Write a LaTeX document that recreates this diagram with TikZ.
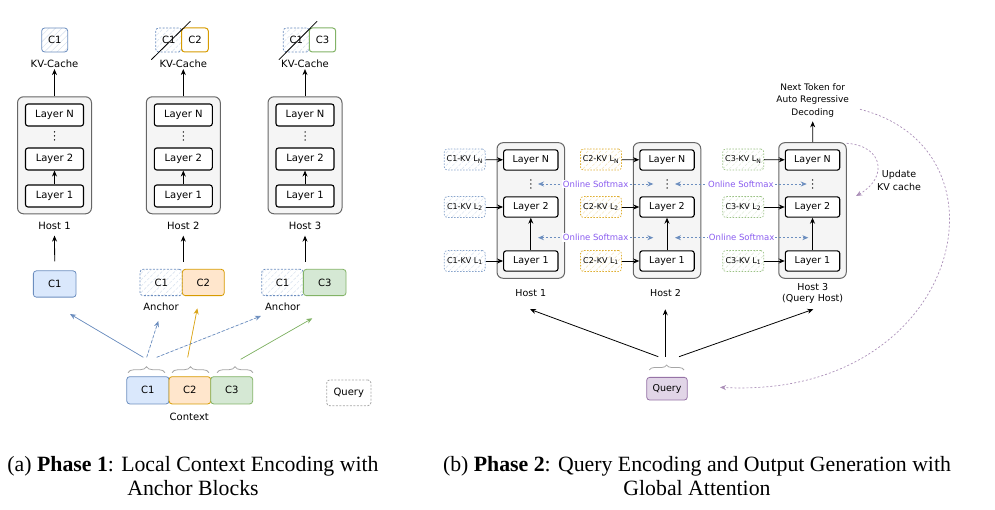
\documentclass[tikz,border=0pt]{standalone}
\usepackage{fontspec}
\setmainfont{Liberation Serif}
\newfontfamily\dv{DejaVu Sans}
\usetikzlibrary{arrows.meta,patterns.meta,decorations.pathreplacing,calc}

\definecolor{bluefl}{HTML}{DAE8FC}
\definecolor{bluedr}{HTML}{6C8EBF}
\definecolor{orangefl}{HTML}{FFE6CC}
\definecolor{orangedr}{HTML}{D79B00}
\definecolor{greenfl}{HTML}{D5E8D4}
\definecolor{greendr}{HTML}{82B366}
\definecolor{purplefl}{HTML}{E1D5E7}
\definecolor{purpledr}{HTML}{9673A6}
\definecolor{hostfl}{HTML}{F5F5F5}
\definecolor{hostdr}{HTML}{666666}
\definecolor{softtxt}{HTML}{8A5CF0}
\definecolor{bracec}{HTML}{A6A6A6}

\tikzset{
  fs/.style={font=\dv\fontsize{#1}{#1}\selectfont},
  arr/.style={-{Stealth[length=6pt,width=5pt]}, line width=0.8pt},
  hostbox/.style={draw=hostdr, fill=hostfl, rounded corners=6pt, line width=1pt, inner sep=0pt},
  layerA/.style={draw=black, fill=white, rounded corners=2.5pt, line width=1.1pt,
    minimum width=58pt, minimum height=22pt, inner sep=0pt, fs=10},
  layerB/.style={layerA, minimum width=54.4pt, minimum height=20.3pt, fs=9.5},
  chunk/.style={rounded corners=3pt, line width=0.8pt, minimum height=26.3pt, inner sep=0pt, fs=10},
  solidchunk/.style={chunk, draw=#1dr, fill=#1fl},
  hatched/.style={pattern={Lines[angle=45,distance=4.5pt,line width=0.6pt]}, pattern color=#1dr!25},
  anchorchunk/.style={chunk, draw=#1dr, dashed, dash pattern=on 2pt off 1.5pt, hatched=#1},
  cache/.style={chunk, minimum height=24pt},
  kvbox/.style={draw=#1dr!80, dash pattern=on 1.5pt off 1.5pt, hatched=#1, rounded corners=3pt,
    line width=0.7pt, minimum width=41pt, minimum height=21pt, inner sep=0pt, fs=8},
  vdot/.style={inner sep=0pt, minimum width=2pt, minimum height=10pt},
  lbl/.style={inner sep=1pt, fs=10},
  brc/.style={draw=bracec, line width=0.8pt, decorate, decoration={brace, amplitude=6pt}},
  soft/.style={{Stealth[length=6pt,width=5pt]}-{Stealth[length=6pt,width=5pt]}, draw=bluedr,
    line width=0.7pt, dash pattern=on 2pt off 2pt},
  softlbl/.style={fill=white, inner sep=1pt, text=softtxt, fs=8.5},
  pcurve/.style={-{Stealth[length=6pt,width=5pt]}, draw=purpledr!80, line width=0.7pt,
    dash pattern=on 2pt off 2pt},
  capt/.style={align=center, font=\fontsize{21.8}{24}\selectfont},
}
% three stacked dots inside a dots node
\newcommand\stackdots[1]{%
  \foreach \dd in {-4,0,4}{\fill ($(#1)+(0,\dd)$) circle (0.75pt);}}

\begin{document}
\begin{tikzpicture}[x=1pt,y=-1pt]
\useasboundingbox (0,0) rectangle (995,510);

% ---------------- Phase 1: local context encoding ----------------
\foreach \i/\x in {1/54.5,2/183.3,3/305}{
  \node[hostbox, minimum width=74pt, minimum height=117pt] (ha\i) at (\x,155.3) {};
  \node[layerA] (haN\i) at (\x,115) {Layer N};
  \node[layerA] (haB\i) at (\x,159) {Layer 2};
  \node[layerA] (haA\i) at (\x,196) {Layer 1};
  \node[vdot] (had\i) at (\x,136) {};
  \stackdots{had\i}
  \draw[arr] (haA\i) -- (haB\i);
  \node[lbl] (hal\i) at (\x,225.7) {Host \i};
  \node[lbl] (kvc\i) at (\x,64) {KV-Cache};
  \draw[arr] (ha\i) -- (kvc\i);
}

% KV caches kept after encoding
\node[cache, draw=bluedr, hatched=blue, minimum width=26pt] (tc1) at (54.7,40) {C1};
\node[cache, draw=bluedr, dashed, dash pattern=on 2pt off 1.5pt, hatched=blue, minimum width=26pt] (tc2a) at (168.7,40) {C1};
\node[cache, draw=orangedr, fill=white, line width=1pt, minimum width=26.6pt] (tc2b) at (195,40) {C2};
\node[cache, draw=bluedr, dashed, dash pattern=on 2pt off 1.5pt, hatched=blue, minimum width=26pt] (tc3a) at (296.3,40) {C1};
\node[cache, draw=greendr, fill=white, line width=1pt, minimum width=26.4pt] (tc3b) at (322.5,40) {C3};
\draw[line width=0.8pt] ($(tc2a.south west)+(-4,7.3)$) -- ($(tc2a.north east)+(8.3,-6.3)$);
\draw[line width=0.8pt] ($(tc3a.south west)+(-4,7.3)$) -- ($(tc3a.north east)+(7.4,-6.3)$);

% inputs of each host
\node[solidchunk=blue, minimum width=42.7pt] (in1) at (54.7,284) {C1};
\node[anchorchunk=blue, minimum width=42.3pt] (an2) at (161.2,282.5) {C1};
\node[solidchunk=orange, minimum width=42pt] (in2) at (203.3,282.5) {C2};
\node[anchorchunk=blue, minimum width=41.6pt] (an3) at (282.5,282.5) {C1};
\node[solidchunk=green, minimum width=42.7pt] (in3) at (324.7,282.5) {C3};
\node[lbl] (anl2) at (161,306.7) {Anchor};
\node[lbl] (anl3) at (282.7,306.7) {Anchor};

\draw[arr] ($(in1.north)+(0,-9)$) -- ($(hal1.south)+(0,5)$);
\draw[arr] ($(hal2.south |- an2.north)+(0,-7)$) -- ($(hal2.south)+(0,5)$);
\draw[arr] ($(hal3.south |- an3.north)+(0,-7)$) -- ($(hal3.south)+(0,5)$);

% context split into chunks
\node[solidchunk=blue, minimum width=42.3pt, minimum height=27.3pt] (cx1) at (147.9,390.3) {C1};
\node[solidchunk=orange, minimum width=41.7pt, minimum height=27.3pt] (cx2) at (189.9,390.3) {C2};
\node[solidchunk=green, minimum width=42pt, minimum height=27.3pt] (cx3) at (231.7,390.3) {C3};
\node[lbl] (ctx) at (189.3,417.3) {Context};
\draw[brc] (128,372.7) -- (165,372.7);
\draw[brc] (172,372.7) -- (209,372.7);
\draw[brc] (217,372.7) -- (253,372.7);

\node[chunk, draw=gray!70, dashed, dash pattern=on 2pt off 1.5pt, minimum width=44.3pt, minimum height=25.7pt] (qa) at (348.8,392.8) {Query};

% chunk distribution
\coordinate (sA) at (143.3,357.3); \coordinate (eA) at (70,314);
\coordinate (sB) at (146.7,357.3); \coordinate (eB) at (158.3,321);
\coordinate (sC) at (187.7,357.3); \coordinate (eC) at (197.3,308.3);
\coordinate (sD) at (156.7,357.3); \coordinate (eD) at (261,316);
\coordinate (sE) at (240.7,359.3); \coordinate (eE) at (312.3,318.3);
\draw[arr, draw=bluedr, fill=bluedr, line width=0.7pt] (sA) -- (eA);
\draw[arr, draw=bluedr, fill=bluedr, line width=0.7pt, dash pattern=on 3pt off 2pt] (sB) -- (eB);
\draw[arr, draw=orangedr!90, fill=orangedr!90, line width=0.7pt] (sC) -- (eC);
\draw[arr, draw=bluedr, fill=bluedr, line width=0.7pt, dash pattern=on 3pt off 2pt] (sD) -- (eD);
\draw[arr, draw=greendr, fill=greendr, line width=0.7pt] (sE) -- (eE);

% ---------------- Phase 2: query encoding and generation ----------------
\foreach \i/\x/\kx/\c in {1/530.8/464.8/blue, 2/667/601/orange, 3/812.5/743.3/green}{
  \node[hostbox, minimum width=67.5pt, minimum height=135.6pt] (hb\i) at (\x,210.5) {};
  \node[layerB] (hbN\i) at (\x,160) {Layer N};
  \node[layerB] (hbB\i) at (\x,207) {Layer 2};
  \node[layerB] (hbA\i) at (\x,261) {Layer 1};
  \node[vdot] (hbd\i) at (\x,184) {};
  \stackdots{hbd\i}
  \draw[arr] (hbA\i) -- (hbB\i);
  \node[kvbox=\c] (kvN\i) at (\kx,159.5) {C\i-KV L\textsubscript{N}};
  \node[kvbox=\c] (kvB\i) at (\kx,207) {C\i-KV L\textsubscript{2}};
  \node[kvbox=\c] (kvA\i) at (\kx,261) {C\i-KV L\textsubscript{1}};
  \draw[arr] (kvN\i) -- (hbN\i);
  \draw[arr] (kvB\i) -- (hbB\i);
  \draw[arr] (kvA\i) -- (hbA\i);
}
\node[lbl, fs=9.5] (hbl1) at (530.8,292.7) {Host 1};
\node[lbl, fs=9.5] (hbl2) at (665.5,292.7) {Host 2};
\node[lbl, fs=9.5, align=center] (hbl3) at (812.7,293) {Host 3\\[1.5pt](Query Host)};

% online softmax exchange between hosts
\coordinate (u1) at (538,184); \coordinate (u2) at (653.3,184);
\coordinate (u3) at (675,184); \coordinate (u4) at (806.7,184);
\coordinate (w1) at (538,237.7); \coordinate (w2) at (653.3,237.7);
\coordinate (w3) at (675,237.7); \coordinate (w4) at (808.3,237.7);
\draw[soft] (u1) -- node[softlbl] {Online Softmax} (u2);
\draw[soft] (u3) -- node[softlbl] {Online Softmax} (u4);
\draw[soft] (w1) -- node[softlbl] {Online Softmax} (w2);
\draw[soft] (w3) -- node[softlbl] {Online Softmax} (w4);

% query dispatch
\node[solidchunk=purple, minimum width=40.6pt, minimum height=22.7pt, fs=9.5] (qb) at (667,388.7) {Query};
\draw[brc, decoration={brace, amplitude=5pt}] (649.3,370) -- (684,370);
\coordinate (qs1) at (658.3,356.7); \coordinate (qe1) at (530,309.3);
\coordinate (qs2) at (665.3,356.7); \coordinate (qe2) at (665.3,309.3);
\coordinate (qs3) at (679,356.7);   \coordinate (qe3) at (813.3,309.3);
\draw[arr] (qs1) -- (qe1);
\draw[arr] (qs2) -- (qe2);
\draw[arr] (qs3) -- (qe3);

% generation output and cache update
\node[lbl, fs=9, align=center] (nt) at (812.7,100.3) {Next Token for\\[3.5pt]Auto Regressive\\[3.5pt]Decoding};
\draw[arr] (hb3) -- ($(nt.south)+(0,3)$);
\node[lbl, fs=9.5, align=center] (upd) at (899,180) {Update\\[3.5pt]KV cache};
\coordinate (cu1) at (846.7,143.3); \coordinate (cu2) at (856,196);
\draw[pcurve] (cu1) .. controls (884,146) and (888,178) .. (cu2);
\coordinate (lo1) at (860,109.3); \coordinate (lo2) at (720,387.3);
\draw[pcurve] (lo1) .. controls (1020,150) and (960,400) .. (lo2);

% captions
\node[capt] (capa) at (193,476) {(a) \textbf{Phase 1}: Local Context Encoding with\\Anchor Blocks};
\node[capt] (capb) at (697,476) {(b) \textbf{Phase 2}: Query Encoding and Output Generation with\\Global Attention};
\end{tikzpicture}
\end{document}
